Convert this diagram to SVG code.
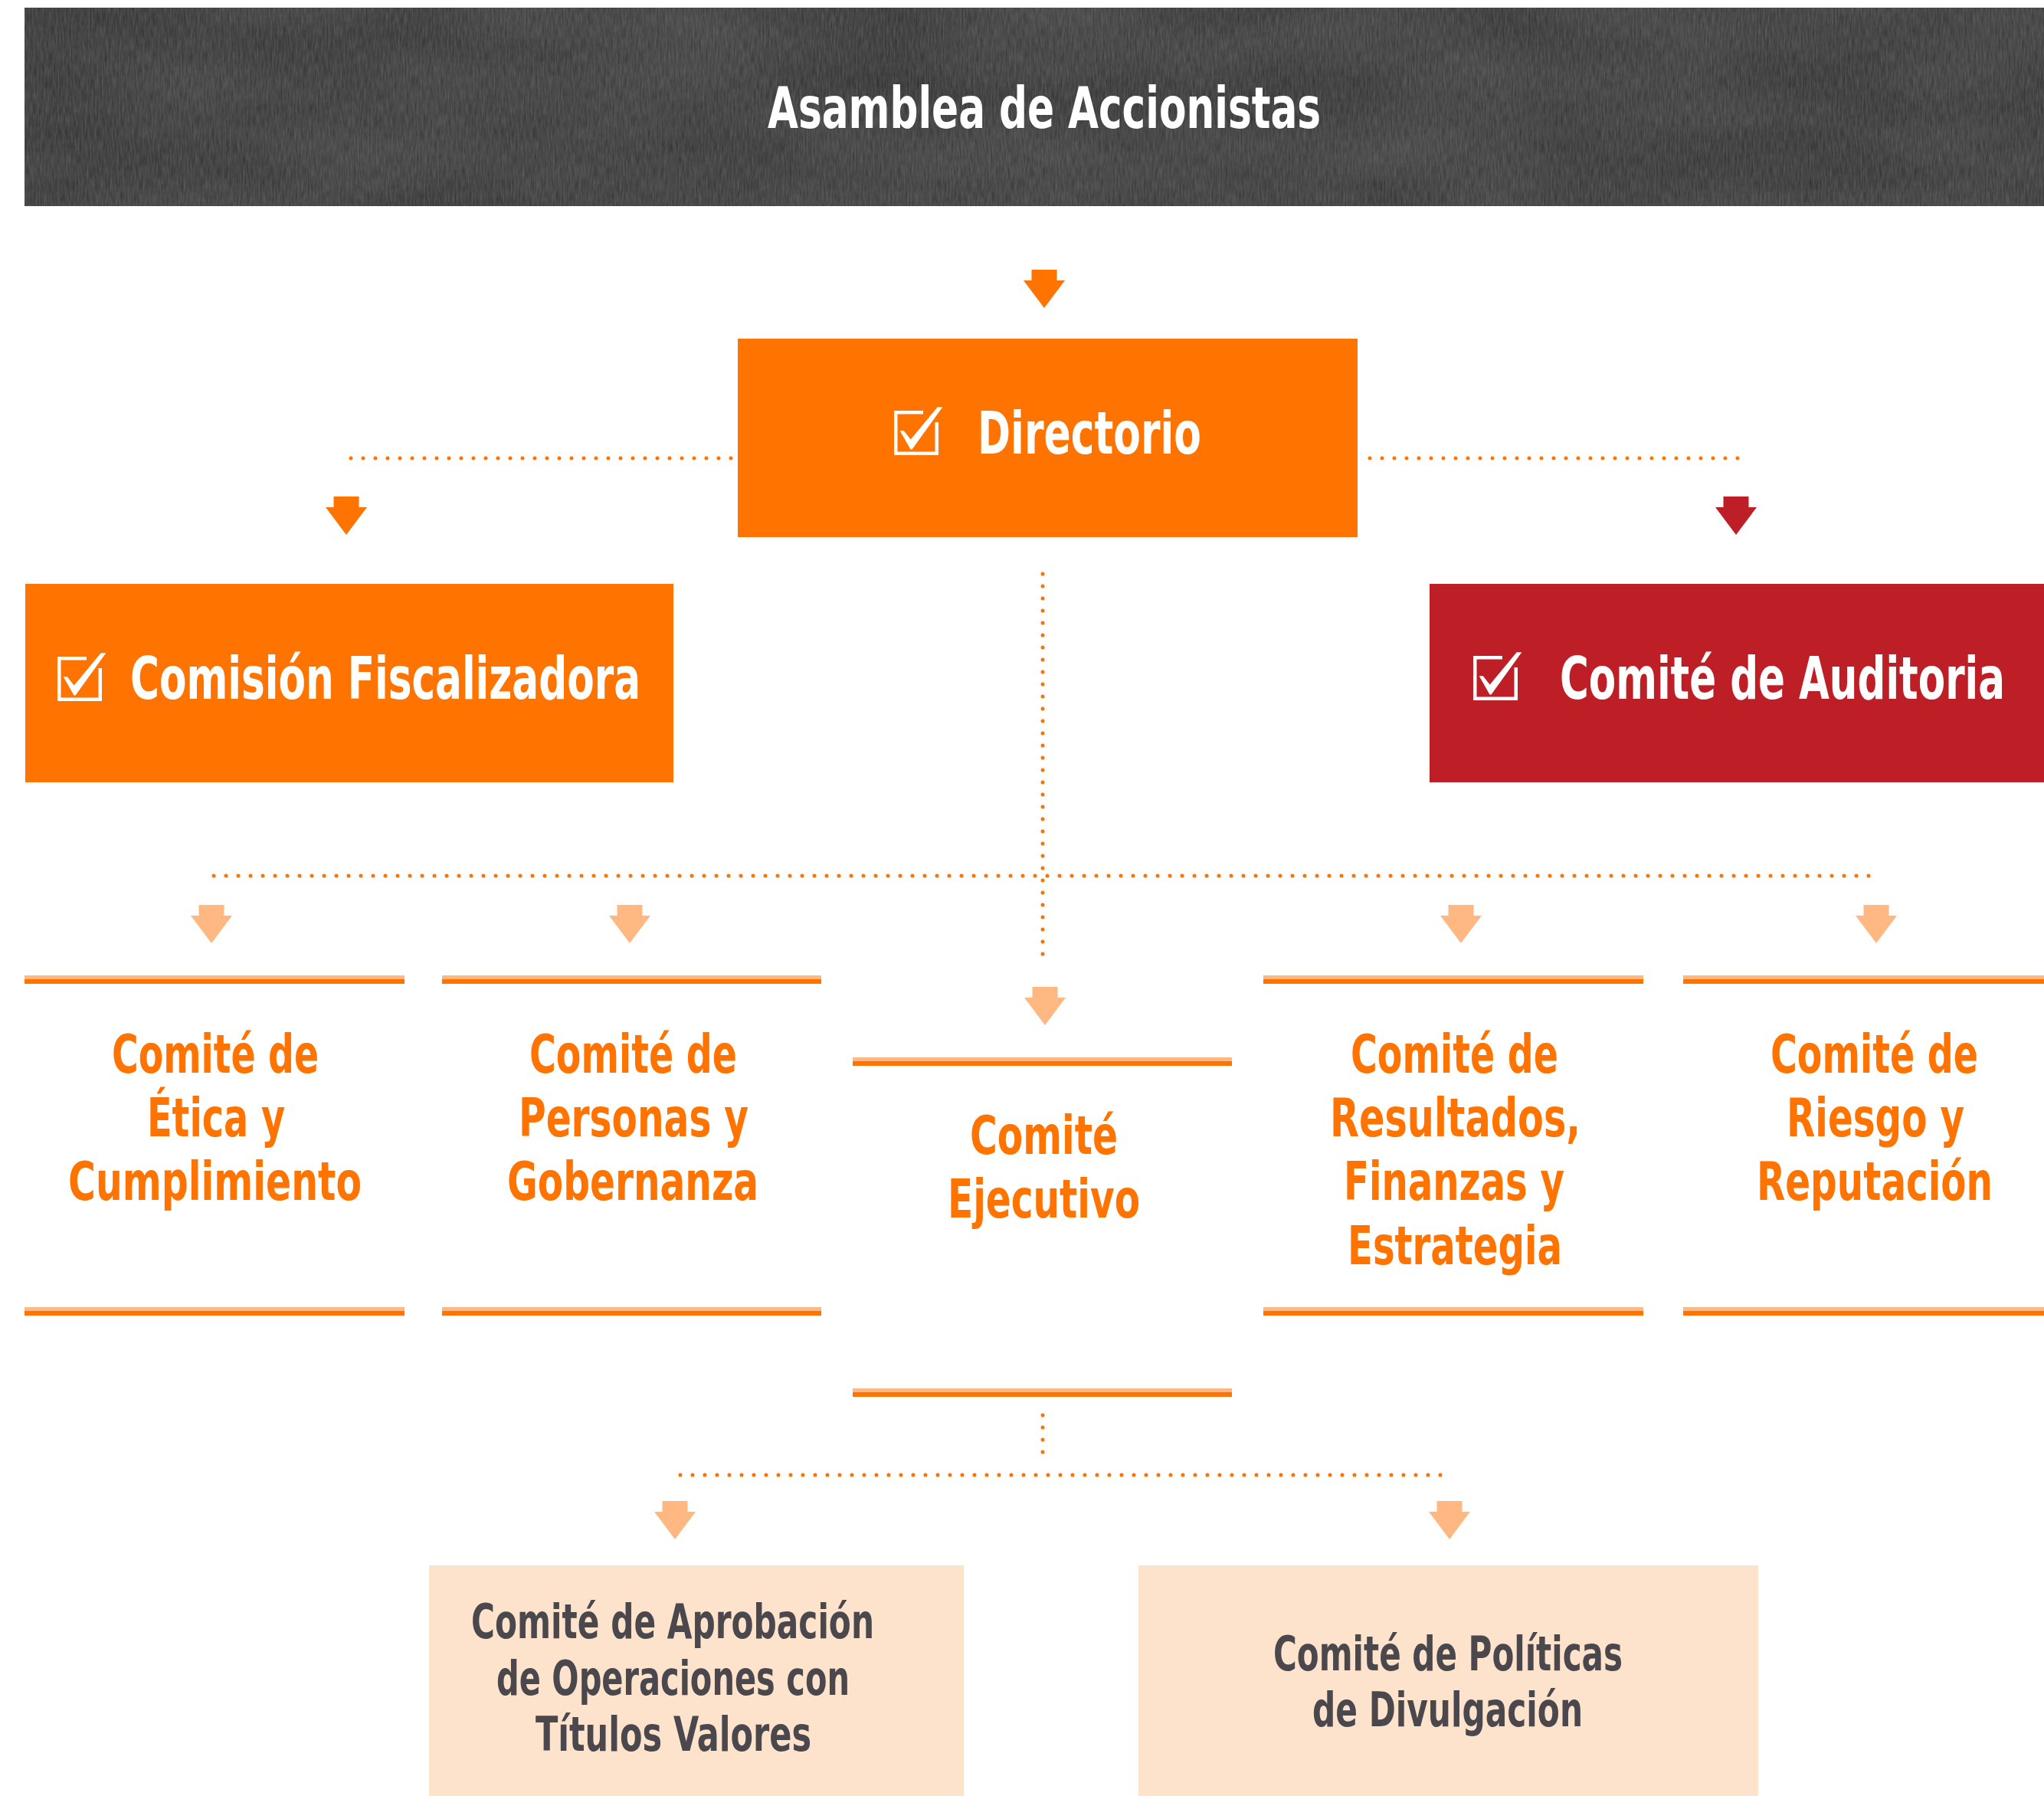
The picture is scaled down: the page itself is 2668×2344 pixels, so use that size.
<svg xmlns="http://www.w3.org/2000/svg" width="2668" height="2344" viewBox="0 0 2668 2344">
<style>
.t{font-family:"DejaVu Sans Condensed","DejaVu Sans",sans-serif;font-weight:bold}
.w{fill:#FFFFFF}
.o{fill:#FF7300}
.g{fill:#4A474D}
.dot{fill:none;stroke:#FF7300;stroke-width:5;stroke-linecap:round;stroke-dasharray:0 16}
.ao{fill:#FF7300}
.ar{fill:#BE1E25}
.al{fill:#FFB882}
.bl{fill:#FFB882}
.bd{fill:#FF7300}
</style>
<defs>
<filter id="tex" x="0" y="0" width="1" height="1">
<feTurbulence type="fractalNoise" baseFrequency="0.45 0.06" numOctaves="3" seed="4" result="n"/>
<feColorMatrix in="n" type="matrix" values="0 0 0 0 0.5  0 0 0 0 0.5  0 0 0 0 0.5  0 0 0 0.3 0" result="m"/>
<feComposite in="m" in2="SourceGraphic" operator="in"/>
</filter>
<filter id="blot" x="0" y="0" width="1" height="1">
<feTurbulence type="fractalNoise" baseFrequency="0.004 0.012" numOctaves="2" seed="9" result="n"/>
<feColorMatrix in="n" type="matrix" values="0 0 0 0 0.08  0 0 0 0 0.08  0 0 0 0 0.08  0 0 0 0.7 -0.1" result="m"/>
<feComposite in="m" in2="SourceGraphic" operator="in"/>
</filter>
<g id="chk">
<rect x="0" y="0" width="38" height="4.5"/>
<rect x="0" y="0" width="4.5" height="58"/>
<rect x="0" y="53.5" width="58" height="4.5"/>
<rect x="53.5" y="15" width="4.5" height="43"/>
<polygon points="7.7,26.3 12.8,26.3 21.7,37.5 56.7,-4.7 63.3,-4.7 23.5,50.5 21.5,50.5"/>
</g>
<path id="arr" d="M-16.5,0 h33 v14 h10.5 L0,50 L-27,14 h10.5 z"/>
</defs>

<g id="connectors">
<path class="dot" d="M458,598 H963"/>
<path class="dot" d="M2268,598 H1772"/>
<path class="dot" d="M1361,749 V1255"/>
<path class="dot" d="M279,1143 H2452"/>
<path class="dot" d="M1361,1847 V1911"/>
<path class="dot" d="M888,1925 H1894"/>
<use href="#arr" class="ao" x="1363" y="352"/>
<use href="#arr" class="ao" x="452" y="648"/>
<use href="#arr" class="ar" x="2266" y="648"/>
<use href="#arr" class="al" x="276" y="1181"/>
<use href="#arr" class="al" x="822" y="1181"/>
<use href="#arr" class="al" x="1364" y="1288"/>
<use href="#arr" class="al" x="1907" y="1181"/>
<use href="#arr" class="al" x="2449" y="1181"/>
<use href="#arr" class="al" x="881" y="1959"/>
<use href="#arr" class="al" x="1892" y="1959"/>
</g>

<g id="asamblea">
<rect x="32" y="10" width="2636" height="259" fill="#2C2C2C"/>
<rect x="32" y="10" width="2636" height="259" fill="#2C2C2C" filter="url(#blot)"/>
<rect x="32" y="10" width="2636" height="259" fill="#2C2C2C" filter="url(#tex)"/>
<text class="t w" x="1002" y="167" font-size="74" textLength="722" lengthAdjust="spacingAndGlyphs">Asamblea de Accionistas</text>
</g>

<g id="directorio">
<rect x="963" y="442" width="809" height="259" fill="#FF7300"/>
<use href="#chk" x="1167" y="536" fill="#FFFFFF"/>
<text class="t w" x="1276" y="592" font-size="76" textLength="292" lengthAdjust="spacingAndGlyphs">Directorio</text>
</g>

<g id="comision">
<rect x="33" y="762" width="846" height="259" fill="#FF7300"/>
<use href="#chk" x="75" y="857" fill="#FFFFFF"/>
<text class="t w" x="170" y="912" font-size="76" textLength="666" lengthAdjust="spacingAndGlyphs">Comisión Fiscalizadora</text>
</g>

<g id="auditoria">
<rect x="1866" y="762" width="802" height="259" fill="#BE1E25"/>
<use href="#chk" x="1923" y="856" fill="#FFFFFF"/>
<g transform="translate(2036,912) scale(0.76,1)">
<text class="t w" x="0" y="0" font-size="76" textLength="764.5" lengthAdjust="spacingAndGlyphs">Comité de Auditoria</text>
</g>
</g>

<g id="etica">
<rect class="bl" x="32" y="1273" width="496" height="5"/>
<rect class="bd" x="32" y="1278" width="496" height="6"/>
<text class="t o" font-size="70" x="146" y="1400" textLength="270" lengthAdjust="spacingAndGlyphs">Comité de</text>
<text class="t o" font-size="70" x="192" y="1483" textLength="180" lengthAdjust="spacingAndGlyphs">Ética y</text>
<text class="t o" font-size="70" x="89" y="1566" textLength="383" lengthAdjust="spacingAndGlyphs">Cumplimiento</text>
<rect class="bl" x="32" y="1706" width="496" height="5"/>
<rect class="bd" x="32" y="1711" width="496" height="6"/>
</g>

<g id="personas">
<rect class="bl" x="577" y="1273" width="495" height="5"/>
<rect class="bd" x="577" y="1278" width="495" height="6"/>
<text class="t o" font-size="70" x="691" y="1400" textLength="271" lengthAdjust="spacingAndGlyphs">Comité de</text>
<text class="t o" font-size="70" x="677" y="1483" textLength="300" lengthAdjust="spacingAndGlyphs">Personas y</text>
<text class="t o" font-size="70" x="662" y="1566" textLength="328" lengthAdjust="spacingAndGlyphs">Gobernanza</text>
<rect class="bl" x="577" y="1706" width="495" height="5"/>
<rect class="bd" x="577" y="1711" width="495" height="6"/>
</g>

<g id="ejecutivo">
<rect class="bl" x="1113" y="1380" width="495" height="5"/>
<rect class="bd" x="1113" y="1385" width="495" height="6"/>
<text class="t o" font-size="70" x="1266" y="1506" textLength="193" lengthAdjust="spacingAndGlyphs">Comité</text>
<text class="t o" font-size="70" x="1237" y="1589" textLength="251" lengthAdjust="spacingAndGlyphs">Ejecutivo</text>
<rect class="bl" x="1113" y="1812" width="495" height="5"/>
<rect class="bd" x="1113" y="1817" width="495" height="6"/>
</g>

<g id="resultados">
<rect class="bl" x="1649" y="1273" width="496" height="5"/>
<rect class="bd" x="1649" y="1278" width="496" height="6"/>
<text class="t o" font-size="70" x="1763" y="1400" textLength="271" lengthAdjust="spacingAndGlyphs">Comité de</text>
<text class="t o" font-size="70" x="1736" y="1483" textLength="327" lengthAdjust="spacingAndGlyphs">Resultados,</text>
<text class="t o" font-size="70" x="1754" y="1566" textLength="288" lengthAdjust="spacingAndGlyphs">Finanzas y</text>
<text class="t o" font-size="70" x="1759" y="1650" textLength="280" lengthAdjust="spacingAndGlyphs">Estrategia</text>
<rect class="bl" x="1649" y="1706" width="496" height="5"/>
<rect class="bd" x="1649" y="1711" width="496" height="6"/>
</g>

<g id="riesgo">
<rect class="bl" x="2197" y="1273" width="471" height="5"/>
<rect class="bd" x="2197" y="1278" width="471" height="6"/>
<g transform="translate(2311,1400) scale(0.76,1)">
<text class="t o" font-size="70" x="0" y="0" textLength="356.6" lengthAdjust="spacingAndGlyphs">Comité de</text>
</g>
<g transform="translate(2332,1483) scale(0.76,1)">
<text class="t o" font-size="70" x="0" y="0" textLength="305.3" lengthAdjust="spacingAndGlyphs">Riesgo y</text>
</g>
<g transform="translate(2293,1566) scale(0.76,1)">
<text class="t o" font-size="70" x="0" y="0" textLength="405.3" lengthAdjust="spacingAndGlyphs">Reputación</text>
</g>
<rect class="bl" x="2197" y="1706" width="471" height="5"/>
<rect class="bd" x="2197" y="1711" width="471" height="6"/>
</g>

<g id="aprobacion">
<rect x="560" y="2043" width="698" height="301" fill="#FDE2CC"/>
<text class="t g" font-size="63" x="615" y="2138" textLength="526" lengthAdjust="spacingAndGlyphs">Comité de Aprobación</text>
<text class="t g" font-size="63" x="648" y="2212" textLength="461" lengthAdjust="spacingAndGlyphs">de Operaciones con</text>
<text class="t g" font-size="63" x="699" y="2285" textLength="360" lengthAdjust="spacingAndGlyphs">Títulos Valores</text>
</g>

<g id="politicas">
<rect x="1486" y="2043" width="809" height="301" fill="#FDE2CC"/>
<text class="t g" font-size="63" x="1662" y="2180" textLength="456" lengthAdjust="spacingAndGlyphs">Comité de Políticas</text>
<text class="t g" font-size="63" x="1713" y="2253" textLength="353" lengthAdjust="spacingAndGlyphs">de Divulgación</text>
</g>
</svg>
